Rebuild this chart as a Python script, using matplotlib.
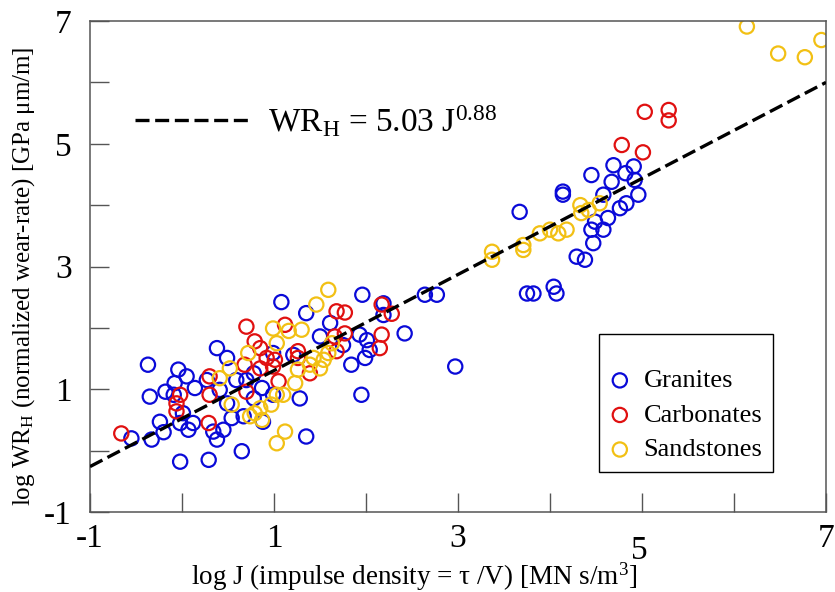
import matplotlib
matplotlib.use("Agg")
import matplotlib.pyplot as plt
import matplotlib.transforms as mtransforms
import numpy as np

plt.rcParams['font.family'] = ['Liberation Serif', 'DejaVu Serif']
plt.rcParams['mathtext.fontset'] = 'custom'
plt.rcParams['mathtext.rm'] = 'Liberation Serif'
plt.rcParams['mathtext.it'] = 'Liberation Serif:italic'
plt.rcParams['axes.unicode_minus'] = False

# log J / log WR_H pairs
granite_x = [-0.37, -0.55, -0.33, -0.20, -0.24, -0.35, -0.18, -0.09, -0.08, -0.04,
             0.05, 0.14, -0.02, 0.07, 0.12, 0.01, -0.02, 0.29, 0.38, 0.45,
             0.34, 0.38, 0.49, 0.27, 0.41, 0.49, 0.54, 0.65, 0.59, 0.70,
             0.78, 0.87, 0.88, 0.67, 0.78, 1.08, 1.35, 1.50, 1.61, 1.75,
             1.93, 2.01, 2.04, 1.99, 1.84, 1.95, 1.96, 2.19, 2.19, 2.42,
             2.64, 2.77, 2.97, 1.28, 1.35, 0.99, 1.21, 0.99,
             3.67, 4.14, 4.14, 4.29, 4.38, 4.47, 4.45, 4.58, 4.49, 4.63,
             4.58, 4.76, 4.83, 4.96, 3.75, 3.82, 4.04, 4.07,
             4.69, 4.91, 4.45, 4.67, 4.82, 4.92]
granite_y = [1.40, 0.20, 0.18, 0.30, 0.47, 0.88, 0.96, 0.91, 1.10, 1.32,
             1.21, 1.02, 0.45, 0.34, 0.45, 0.61, -0.18, -0.15, 0.18, 0.34,
             0.31, 1.67, 1.51, 1.15, 0.99, 0.77, 0.53, -0.01, 1.15, 1.15,
             1.26, 1.02, 0.47, 0.56, 0.85, 2.42, 2.24, 1.86, 2.08, 1.72,
             1.89, 1.80, 1.64, 1.51, 1.40, 0.91, 2.54, 2.40, 2.21, 1.91,
             2.54, 2.54, 1.37, 0.85, 0.23, 1.59, 1.56, 0.91,
             3.89, 4.22, 4.17, 3.16, 3.11, 3.38, 3.60, 3.60, 3.73, 3.79,
             4.17, 3.95, 4.03, 4.17, 2.56, 2.56, 2.67, 2.56,
             4.65, 4.63, 4.49, 4.38, 4.52, 4.41]

carbonate_x = [-0.66, -0.02, -0.06, -0.06, 0.29, 0.30, 0.30, 0.70, 0.79, 0.85,
               0.92, 0.85, 0.68, 1.01, 0.99, 1.12, 1.05, 0.70, 1.26, 1.26,
               1.68, 1.77, 1.66, 1.77, 2.17, 2.28, 2.17, 2.15, 1.68, 1.39,
               5.03, 5.29, 5.29, 4.78, 5.01]
carbonate_y = [0.28, 0.91, 0.77, 0.64, 0.45, 1.21, 0.91, 2.02, 1.78, 1.67,
               1.51, 1.34, 1.40, 1.48, 1.37, 2.05, 1.13, 0.96, 1.62, 1.51,
               2.27, 2.25, 1.86, 1.91, 2.38, 2.23, 1.89, 1.67, 1.62, 1.26,
               5.52, 5.55, 5.38, 4.98, 4.86]

sandstone_x = [1.59, 1.46, 0.99, 1.16, 1.30, 1.03, 0.72, 0.52, 0.41, 0.54,
               0.74, 0.87, 0.85, 0.97, 1.10, 1.03, 1.23, 1.26, 1.39, 1.50,
               1.54, 1.59, 1.63, 1.43, 1.12, 1.03, 0.79,
               3.37, 3.37, 3.71, 3.71, 3.89, 4.00, 4.09, 4.18, 4.33, 4.34,
               4.42, 4.54, 6.14, 6.48, 6.77, 6.95]
sandstone_y = [2.62, 2.38, 1.99, 1.95, 1.97, 1.75, 1.59, 1.34, 1.18, 0.75,
               0.56, 0.50, 0.69, 0.75, 0.91, 0.91, 1.10, 1.32, 1.40, 1.34,
               1.48, 1.59, 1.75, 1.51, 0.31, 0.12, 0.61,
               3.24, 3.11, 3.35, 3.27, 3.54, 3.60, 3.54, 3.60, 4.00, 3.87,
               3.92, 4.03, 6.91, 6.47, 6.41, 6.69]

fit_x = [-1, 7]
fit_y = [-0.26, 6.0]

groups = [("Granites", granite_x, granite_y, "#0a0ad8"),
          ("Carbonates", carbonate_x, carbonate_y, "#e01010"),
          ("Sandstones", sandstone_x, sandstone_y, "#f2c014")]

fig = plt.figure(figsize=(8.35, 5.92), dpi=100)
ax = fig.add_axes([90 / 835, 1 - 512 / 592, 736 / 835, 491 / 592])

handles = []
for name, xs, ys, col in groups:
    h = ax.scatter(xs, ys, s=105, facecolors='none', edgecolors=col,
                   linewidths=1.6, label=name, zorder=2)
    handles.append(h)

line, = ax.plot(fit_x, fit_y, color='black', lw=2.4, linestyle=(0, (4.2, 1.7)),
                zorder=3, label=r"WR$_\mathrm{H}$ = 5.03 J$^{\mathrm{0.88}}$")

ax.set_xlim(-1, 7)
ax.set_ylim(-1, 7)
ax.set_xticks([-1, 1, 3, 5, 7])
ax.set_yticks([-1, 1, 3, 5, 7])
ax.set_xticks([0, 2, 4, 6], minor=True)
ax.set_yticks([0, 2, 4, 6], minor=True)
ax.tick_params(which='both', direction='in', length=13.5, width=1.0,
               color='#555555', top=False, right=False)
ax.tick_params(axis='x', which='major', labelsize=24, pad=8)
ax.tick_params(axis='y', which='major', labelsize=24, pad=13)
for sp in ax.spines.values():
    sp.set_color('#555555')
    sp.set_linewidth(1.1)

# the "5" label sits a bit lower in the original
lbl5 = ax.xaxis.get_major_ticks()[3].label1
lbl5.set_transform(lbl5.get_transform() +
                   mtransforms.ScaledTranslation(-3 / 100, -12 / 100, fig.dpi_scale_trans))

ax.set_xlabel(r"log J (impulse density = τ /V) [MN s/m$^{\mathrm{3}}$]", fontsize=19.5)
ax.xaxis.set_label_coords(0.44, -0.098)
ax.set_ylabel(r"log WR$_\mathrm{H}$ (normalized wear-rate) [GPa μm/m]", fontsize=18)
ax.yaxis.set_label_coords(-0.072, 0.48)

leg1 = ax.legend(handles=[line], loc='center left', bbox_to_anchor=(0.061, 0.796),
                 frameon=False, fontsize=24, handlelength=3.5, handletextpad=0.5,
                 borderpad=0, borderaxespad=0)
ax.add_artist(leg1)

leg2 = ax.legend(handles=handles, loc='lower right', bbox_to_anchor=(0.928, 0.0815),
                 fontsize=19, handlelength=0.8, handletextpad=0.5, labelspacing=0.42,
                 borderpad=0.4, borderaxespad=0, fancybox=False, framealpha=1,
                 edgecolor='black', title=" ", title_fontsize=10)
leg2.get_frame().set_linewidth(1.0)

fig.savefig("out.png", dpi=100)
